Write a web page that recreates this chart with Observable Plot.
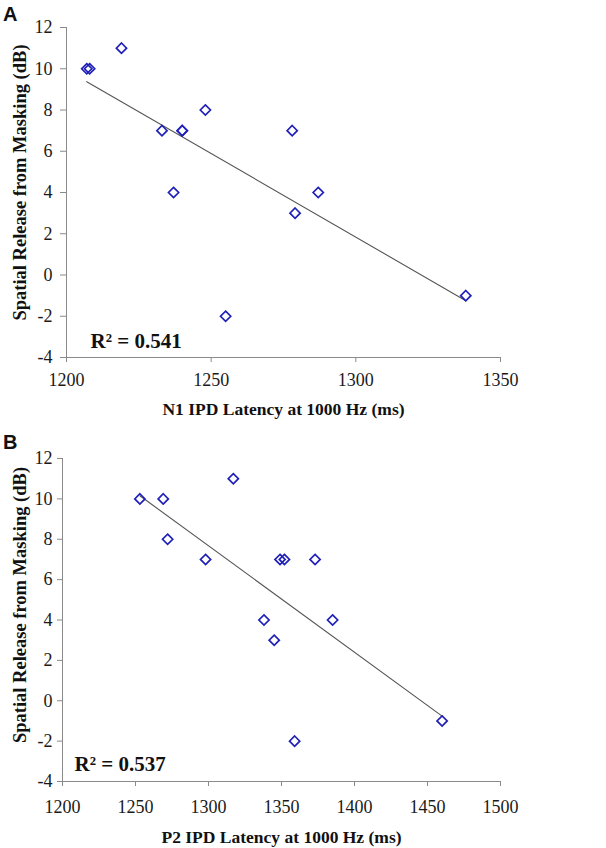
<!DOCTYPE html>
<html>
<head>
<meta charset="utf-8">
<script src="https://cdn.jsdelivr.net/npm/d3@7"></script>
<script src="https://cdn.jsdelivr.net/npm/@observablehq/plot@0.6"></script>
<style>
  html, body { margin: 0; padding: 0; background: #fff; }
  .panel { position: relative; width: 606px; height: 424px; }
  .tag { position: absolute; left: 3px; font: bold 20px "Liberation Sans", Arial, sans-serif; color: #111; }
  svg { display: block; }
  svg text { font-family: "Liberation Serif", "Times New Roman", serif !important; }
</style>
</head>
<body>
<div class="panel" id="pa"><div class="tag" style="top:3px">A</div></div>
<div class="panel" id="pb"><div class="tag" style="top:7px">B</div></div>
<script>
// Panel A: N1 IPD latency vs spatial release from masking
const n1Latency = [1207, 1208, 1219, 1233, 1240, 1240, 1248, 1278, 1237, 1287, 1279, 1255, 1338];
const n1Release = [10, 10, 11, 7, 7, 7, 8, 7, 4, 4, 3, -2, -1];
// Panel B: P2 IPD latency vs spatial release from masking
const p2Latency = [1253, 1269, 1272, 1298, 1317, 1349, 1352, 1373, 1338, 1385, 1345, 1359, 1460];
const p2Release = [10, 10, 8, 7, 11, 7, 7, 7, 4, 4, 3, -2, -1];

const yTicks = [-4, -2, 0, 2, 4, 6, 8, 10, 12];
const xTicksA = [1200, 1250, 1300, 1350];
const xTicksB = [1200, 1250, 1300, 1350, 1400, 1450, 1500];

const yTitle = "Spatial Release from Masking (dB)";
const xTitleA = "N1 IPD Latency at 1000 Hz (ms)";
const xTitleB = "P2 IPD Latency at 1000 Hz (ms)";
const r2A = "R² = 0.541";
const r2B = "R² = 0.537";

const AXIS = "#8a8a8a";
const BLUE = "#2020b8";
const SERIF = "Liberation Serif";

function panel(xs, ys, xTicks, xTitle, r2, o) {
  const data = xs.map((x, i) => ({x, y: ys[i]}));
  const x0 = xTicks[0];
  return Plot.plot({
    width: 606,
    height: 424,
    marginTop: o.top,
    marginBottom: o.bottom,
    marginLeft: o.left,
    marginRight: 106,
    style: {fontFamily: SERIF, color: "#1a1a1a", background: "#fff", overflow: "visible"},
    x: {domain: [x0, xTicks[xTicks.length - 1]]},
    y: {domain: [-4, 12]},
    marks: [
      Plot.axisY({ticks: yTicks, tickSize: o.ytick, stroke: AXIS, label: null, tickFormat: () => ""}),
      Plot.axisX({ticks: xTicks, tickSize: 5, stroke: AXIS, label: null, tickFormat: () => ""}),
      Plot.text(yTicks, {x: () => x0, y: d => d, text: d => String(d), textAnchor: "end", dx: -(o.ytick + o.ypad), fontSize: 18, fontFamily: SERIF, fill: "#1a1a1a"}),
      Plot.text(xTicks, {x: d => d, y: () => -4, text: d => String(d), lineAnchor: "top", dy: 5 + o.xpad, fontSize: 18, fontFamily: SERIF, fill: "#1a1a1a"}),
      Plot.ruleX([x0], {stroke: AXIS}),
      Plot.ruleY([-4], {stroke: AXIS}),
      Plot.linearRegressionY(data, {x: "x", y: "y", ci: 0, stroke: "#555", strokeWidth: 1.1}),
      Plot.dot(data, {x: "x", y: "y", symbol: "diamond2", r: 4.6, stroke: BLUE, strokeWidth: 1.7, fill: "none"}),
      Plot.text([r2], {frameAnchor: "bottom-left", textAnchor: "start", lineAnchor: "bottom", dx: o.r2dx, dy: o.r2dy, fontSize: 21, fontWeight: "bold", fontFamily: SERIF, fill: "#111"}),
      Plot.text([xTitle], {frameAnchor: "bottom", textAnchor: "middle", lineAnchor: "middle", dy: o.xtdy, fontSize: 17.5, fontWeight: "bold", fontFamily: SERIF, fill: "#111"}),
      Plot.text([yTitle], {frameAnchor: "left", textAnchor: "middle", rotate: -90, lineAnchor: "middle", dx: o.ytdx, dy: o.ytdy, fontSize: 18.5, fontWeight: "bold", fontFamily: SERIF, fill: "#111"})
    ]
  });
}

document.getElementById("pa").appendChild(panel(n1Latency, n1Release, xTicksA, xTitleA, r2A,
  {top: 27, bottom: 67, left: 66, ytick: 6, ypad: 8, xpad: 11, r2dx: 24, r2dy: -10, xtdy: 52, ytdx: -46, ytdy: -10}));
document.getElementById("pb").appendChild(panel(p2Latency, p2Release, xTicksB, xTitleB, r2B,
  {top: 34, bottom: 67, left: 62, ytick: 5, ypad: 5, xpad: 14, r2dx: 12, r2dy: -11, xtdy: 56, ytdx: -42, ytdy: -15}));
</script>
</body>
</html>
